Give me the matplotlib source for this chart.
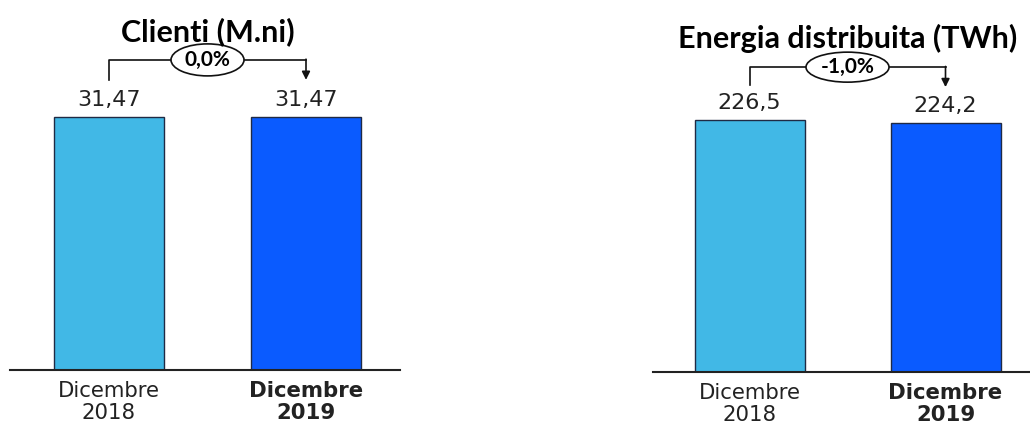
import matplotlib
matplotlib.use("Agg")
import matplotlib.pyplot as plt
from matplotlib.patches import Ellipse
from matplotlib.transforms import blended_transform_factory

# data
periods = ["Dicembre\n2018", "Dicembre\n2019"]
clienti = [31.47, 31.47]
clienti_labels = ["31,47", "31,47"]
clienti_delta = "0,0%"
energia = [226.5, 224.2]
energia_labels = ["226,5", "224,2"]
energia_delta = "-1,0%"

colors = ["#41B8E6", "#0A5BFF"]
edge = "#1F2A44"
title_font = ["Lato", "DejaVu Sans"]

W, H = 1030, 425
fig = plt.figure(figsize=(W / 100, H / 100), dpi=100)


def panel(x0, x1, base, c0, c1, values, labels, title, delta, top_px,
          bracket, ell_w, ell_h, title_y):
    # axes box given in pixels: bottom line at `base`, 350 px tall
    ax = fig.add_axes([x0 / W, (H - base) / H, (x1 - x0) / W, 350 / H])
    step = c1 - c0
    ax.set_xlim(-(c0 - x0) / step, (x1 - c0) / step)
    ax.set_ylim(0, values[0] * 350 / (base - top_px))
    ax.bar(range(len(values)), values, width=110 / step, color=colors,
           edgecolor=edge, linewidth=1.0, zorder=2)
    for i, (v, lab) in enumerate(zip(values, labels)):
        ax.annotate(lab, (i, v), xytext=(0, 5), textcoords="offset points",
                    ha="center", va="bottom", fontsize=16,
                    family="DejaVu Sans", color="#222222")
    ax.set_xticks(range(len(values)))
    ax.set_xticklabels(periods, fontsize=15.3, linespacing=1.12,
                       color="#222222")
    ax.get_xticklabels()[1].set_fontweight("bold")
    ax.tick_params(axis="x", length=0, pad=8)
    ax.set_yticks([])
    for s in ("top", "left", "right"):
        ax.spines[s].set_visible(False)
    ax.spines["bottom"].set_linewidth(1.5)
    ax.spines["bottom"].set_color("#222222")

    tr = blended_transform_factory(ax.transData, ax.transAxes)
    ytop, ylow, ytip = bracket
    mid = 0.5
    half = ell_w / 2 / step
    ax.plot([0, 0, mid - half], [ylow, ytop, ytop], color="#111111",
            lw=1.2, transform=tr, clip_on=False)
    ax.plot([mid + half, 1], [ytop, ytop], color="#111111", lw=1.2,
            transform=tr, clip_on=False)
    ax.annotate("", xy=(1, ytip), xytext=(1, ytop + 0.002), xycoords=tr,
                textcoords=tr,
                arrowprops=dict(arrowstyle="-|>", color="#111111", lw=1.2,
                                mutation_scale=12, shrinkA=0, shrinkB=0))
    ax.add_patch(Ellipse((mid, ytop), ell_w / step, ell_h / 350,
                         transform=tr, facecolor="white", edgecolor="#111111",
                         lw=1.2, clip_on=False, zorder=3))
    ax.text(mid, ytop, delta, transform=tr, ha="center", va="center",
            fontsize=15, fontweight="bold", family=title_font, zorder=4)
    ax.text(mid, title_y, title, transform=tr, ha="center", va="center",
            fontsize=22, fontweight="bold", family=title_font)
    return ax


panel(10, 400, 370, 109, 306, clienti, clienti_labels, "Clienti (M.ni)",
      clienti_delta, 117, (0.886, 0.829, 0.829), 73, 32, 0.968)
panel(653, 1030, 372, 749.5, 945.5, energia, energia_labels,
      "Energia distribuita (TWh)", energia_delta, 120,
      (0.871, 0.820, 0.814), 83, 30, 0.952)

fig.savefig("out.png", dpi=100)
